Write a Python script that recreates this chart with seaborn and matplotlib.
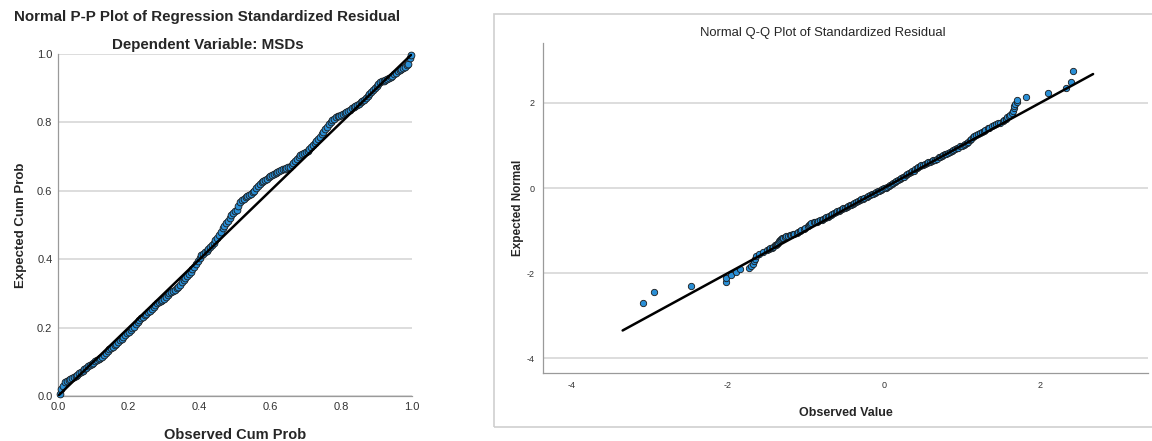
import numpy as np
import pandas as pd
import seaborn as sns
from matplotlib import pyplot as plt
from matplotlib.patches import Rectangle

sns.set_theme(style='white')
plt.rcParams['font.family'] = ['Liberation Sans', 'DejaVu Sans']
plt.rcParams['axes.unicode_minus'] = False

# P-P plot: observed vs expected cumulative probability
pp_observed = [0.005, 0.015, 0.025, 0.035, 0.045, 0.055, 0.065, 0.075, 0.085, 0.095,
               0.105, 0.115, 0.125, 0.135, 0.145, 0.155, 0.165, 0.175, 0.185, 0.195,
               0.205, 0.215, 0.225, 0.235, 0.245, 0.255, 0.265, 0.275, 0.285, 0.295,
               0.305, 0.315, 0.325, 0.335, 0.345, 0.355, 0.365, 0.375, 0.385, 0.395,
               0.405, 0.415, 0.425, 0.435, 0.445, 0.455, 0.465, 0.475, 0.485, 0.495,
               0.505, 0.515, 0.525, 0.535, 0.545, 0.555, 0.565, 0.575, 0.585, 0.595,
               0.605, 0.615, 0.625, 0.635, 0.645, 0.655, 0.665, 0.675, 0.685, 0.695,
               0.705, 0.715, 0.725, 0.735, 0.745, 0.755, 0.765, 0.775, 0.785, 0.795,
               0.805, 0.815, 0.825, 0.835, 0.845, 0.855, 0.865, 0.875, 0.885, 0.895,
               0.905, 0.915, 0.925, 0.935, 0.945, 0.955, 0.965, 0.975, 0.985, 0.990,
               0.995, 0.998]
pp_expected = [0.007, 0.030, 0.045, 0.050, 0.057, 0.061, 0.071, 0.078, 0.087, 0.094,
               0.101, 0.107, 0.113, 0.125, 0.137, 0.144, 0.153, 0.165, 0.172, 0.183,
               0.194, 0.203, 0.217, 0.227, 0.236, 0.246, 0.255, 0.267, 0.274, 0.280,
               0.289, 0.301, 0.307, 0.315, 0.325, 0.339, 0.351, 0.362, 0.377, 0.396,
               0.411, 0.420, 0.429, 0.441, 0.455, 0.471, 0.491, 0.505, 0.521, 0.535,
               0.545, 0.567, 0.577, 0.585, 0.592, 0.600, 0.615, 0.627, 0.633, 0.639,
               0.645, 0.651, 0.657, 0.663, 0.667, 0.671, 0.681, 0.693, 0.704, 0.710,
               0.717, 0.727, 0.739, 0.751, 0.765, 0.780, 0.795, 0.807, 0.815, 0.820,
               0.825, 0.830, 0.837, 0.845, 0.851, 0.859, 0.867, 0.878, 0.889, 0.901,
               0.913, 0.921, 0.923, 0.929, 0.937, 0.945, 0.953, 0.959, 0.967, 0.970,
               0.989, 0.998]
# second reading of the same band, between the points above
pp_observed_b = [0.01, 0.02, 0.03, 0.04, 0.05, 0.06, 0.07, 0.08, 0.09, 0.10,
                 0.11, 0.12, 0.13, 0.14, 0.15, 0.16, 0.17, 0.18, 0.19, 0.20,
                 0.21, 0.22, 0.23, 0.24, 0.25, 0.26, 0.27, 0.28, 0.29, 0.30,
                 0.31, 0.32, 0.33, 0.34, 0.35, 0.36, 0.37, 0.38, 0.39, 0.40,
                 0.41, 0.42, 0.43, 0.44, 0.45, 0.46, 0.47, 0.48, 0.49, 0.50,
                 0.51, 0.52, 0.53, 0.54, 0.55, 0.56, 0.57, 0.58, 0.59, 0.60,
                 0.61, 0.62, 0.63, 0.64, 0.65, 0.66, 0.67, 0.68, 0.69, 0.70,
                 0.71, 0.72, 0.73, 0.74, 0.75, 0.76, 0.77, 0.78, 0.79, 0.80,
                 0.81, 0.82, 0.83, 0.84, 0.85, 0.86, 0.87, 0.88, 0.89, 0.90,
                 0.91, 0.92, 0.93, 0.94, 0.95, 0.96, 0.97, 0.98]
pp_expected_b = [0.020, 0.040, 0.047, 0.052, 0.058, 0.066, 0.074, 0.083, 0.090, 0.098,
                 0.104, 0.110, 0.119, 0.131, 0.140, 0.148, 0.159, 0.168, 0.178, 0.188,
                 0.199, 0.210, 0.222, 0.231, 0.241, 0.250, 0.261, 0.271, 0.277, 0.284,
                 0.295, 0.304, 0.311, 0.320, 0.332, 0.345, 0.356, 0.370, 0.387, 0.404,
                 0.416, 0.424, 0.435, 0.448, 0.463, 0.481, 0.498, 0.513, 0.528, 0.540,
                 0.556, 0.572, 0.581, 0.589, 0.596, 0.608, 0.621, 0.630, 0.636, 0.642,
                 0.648, 0.654, 0.660, 0.665, 0.669, 0.676, 0.687, 0.699, 0.707, 0.714,
                 0.722, 0.733, 0.745, 0.758, 0.772, 0.788, 0.801, 0.811, 0.818, 0.823,
                 0.828, 0.834, 0.841, 0.848, 0.855, 0.863, 0.872, 0.884, 0.895, 0.907,
                 0.917, 0.922, 0.926, 0.933, 0.941, 0.949, 0.956, 0.963]
pp_line = [0.0, 1.0]
pp_ticks = [0.0, 0.2, 0.4, 0.6, 0.8, 1.0]

# Q-Q plot: observed standardized residual vs expected normal
qq_observed = [-3.09, -2.95, -2.47, -2.03, -2.02, -1.96, -1.90, -1.84, -1.73, -1.70,
               -1.68, -1.66, -1.65, -1.64, -1.60, -1.55, -1.50, -1.46, -1.42, -1.39,
               -1.36, -1.33, -1.31, -1.27, -1.23, -1.19, -1.15, -1.10, -1.06, -1.01,
               -0.96, -0.93, -0.88, -0.84, -0.80, -0.76, -0.72, -0.68, -0.64, -0.60,
               -0.56, -0.52, -0.48, -0.44, -0.40, -0.36, -0.31, -0.27, -0.22, -0.18,
               -0.14, -0.10, -0.06, -0.02, 0.02, 0.06, 0.10, 0.14, 0.18, 0.22,
               0.26, 0.30, 0.34, 0.38, 0.42, 0.46, 0.50, 0.55, 0.59, 0.63,
               0.68, 0.72, 0.76, 0.80, 0.85, 0.89, 0.93, 0.98, 1.02, 1.06,
               1.10, 1.14, 1.18, 1.23, 1.28, 1.33, 1.38, 1.44, 1.49, 1.54,
               1.58, 1.62, 1.64, 1.65, 1.66, 1.67, 1.68, 1.70, 1.71, 1.82,
               2.10, 2.33, 2.40, 2.42]
qq_expected = [-2.70, -2.45, -2.31, -2.20, -2.12, -2.05, -1.98, -1.91, -1.87, -1.84,
               -1.79, -1.72, -1.67, -1.61, -1.55, -1.50, -1.46, -1.42, -1.38, -1.33,
               -1.29, -1.22, -1.18, -1.16, -1.13, -1.10, -1.07, -1.03, -0.99, -0.93,
               -0.87, -0.83, -0.80, -0.78, -0.75, -0.71, -0.67, -0.63, -0.59, -0.55,
               -0.52, -0.48, -0.44, -0.40, -0.37, -0.33, -0.29, -0.25, -0.21, -0.17,
               -0.13, -0.09, -0.06, -0.02, 0.01, 0.05, 0.09, 0.14, 0.19, 0.23,
               0.27, 0.32, 0.37, 0.41, 0.46, 0.51, 0.55, 0.59, 0.62, 0.65,
               0.69, 0.74, 0.78, 0.81, 0.85, 0.89, 0.93, 0.98, 1.01, 1.05,
               1.12, 1.19, 1.24, 1.29, 1.34, 1.40, 1.45, 1.50, 1.54, 1.60,
               1.66, 1.72, 1.77, 1.82, 1.87, 1.92, 1.97, 2.03, 2.07, 2.13,
               2.24, 2.35, 2.49, 2.74]
# the dense middle of the band, second reading
qq_observed_b = [-1.48, -1.44, -1.40, -1.37, -1.34, -1.32, -1.29, -1.25, -1.21, -1.17,
                 -1.12, -1.08, -1.03, -0.98, -0.95, -0.90, -0.86, -0.82, -0.78, -0.74,
                 -0.70, -0.66, -0.62, -0.58, -0.54, -0.50, -0.46, -0.42, -0.38, -0.33,
                 -0.29, -0.25, -0.20, -0.16, -0.12, -0.08, -0.04, 0.00, 0.04, 0.08,
                 0.12, 0.16, 0.20, 0.24, 0.28, 0.32, 0.36, 0.40, 0.44, 0.48,
                 0.52, 0.57, 0.61, 0.66, 0.70, 0.74, 0.78, 0.82, 0.87, 0.91,
                 0.95, 1.00, 1.04, 1.08, 1.12, 1.16, 1.21, 1.25, 1.30, 1.35,
                 1.41, 1.46, 1.52, 1.56, 1.60]
qq_expected_b = [-1.44, -1.40, -1.35, -1.31, -1.25, -1.20, -1.17, -1.14, -1.11, -1.08,
                 -1.05, -1.01, -0.96, -0.90, -0.85, -0.81, -0.79, -0.76, -0.73, -0.69,
                 -0.65, -0.61, -0.57, -0.53, -0.50, -0.46, -0.42, -0.39, -0.35, -0.31,
                 -0.27, -0.23, -0.19, -0.15, -0.11, -0.08, -0.04, 0.00, 0.03, 0.07,
                 0.11, 0.16, 0.21, 0.25, 0.30, 0.35, 0.39, 0.44, 0.49, 0.53,
                 0.57, 0.60, 0.63, 0.67, 0.72, 0.76, 0.80, 0.83, 0.87, 0.91,
                 0.95, 0.99, 1.03, 1.09, 1.16, 1.22, 1.27, 1.31, 1.37, 1.42,
                 1.48, 1.52, 1.57, 1.63, 1.69]
qq_line = [-3.35, 2.68]
qq_ticks = [-4, -2, 0, 2]

pp = pd.concat([pd.DataFrame({'observed': pp_observed, 'expected': pp_expected}),
                pd.DataFrame({'observed': pp_observed_b, 'expected': pp_expected_b})])
pp = pp.sort_values('observed')
qq = pd.concat([pd.DataFrame({'observed': qq_observed, 'expected': qq_expected}),
                pd.DataFrame({'observed': qq_observed_b, 'expected': qq_expected_b})])
qq = qq.sort_values('observed')

dot_color = '#2a8fd6'
grid_color = '#d3d3d3'
spine_color = '#9a9a9a'

fig = plt.figure(figsize=(11.52, 4.41), dpi=100)

# ---- left: P-P plot ----
ax1 = fig.add_axes([0.0503, 0.102, 0.3073, 0.7755])
sns.scatterplot(data=pp, x='observed', y='expected', ax=ax1, color=dot_color,
                edgecolor='#1a1a1a', linewidth=0.6, s=24, zorder=3, clip_on=False)
sns.lineplot(x=pp_line, y=pp_line, ax=ax1, color='black', linewidth=1.8, zorder=4)
ax1.set_xlim(0, 1)
ax1.set_ylim(0, 1)
ax1.set_xticks(pp_ticks)
ax1.set_yticks(pp_ticks)
ax1.xaxis.set_major_formatter(plt.FormatStrFormatter('%.1f'))
ax1.yaxis.set_major_formatter(plt.FormatStrFormatter('%.1f'))
ax1.grid(axis='y', color=grid_color, linewidth=1.1)
ax1.set_axisbelow(True)
for side in ['top', 'right']:
    ax1.spines[side].set_visible(False)
for side in ['left', 'bottom']:
    ax1.spines[side].set_color(spine_color)
    ax1.spines[side].set_linewidth(0.9)
ax1.tick_params(length=0, labelsize=8, labelcolor='#333333', pad=4)
ax1.set_xlabel('Observed Cum Prob', fontsize=10.5, fontweight='bold', labelpad=12)
ax1.set_ylabel('Expected Cum Prob', fontsize=9.5, fontweight='bold', labelpad=7)
fig.text(0.18, 0.961, 'Normal P-P Plot of Regression Standardized Residual',
         ha='center', va='center', fontsize=10.9, fontweight='bold')
fig.text(0.18, 0.899, 'Dependent Variable: MSDs',
         ha='center', va='center', fontsize=10.9, fontweight='bold')

# ---- right: Q-Q plot ----
fig.patches.append(Rectangle((494 / 1152, 14 / 441), 0.6, 413 / 441,
                             transform=fig.transFigure, fill=False,
                             edgecolor='#cfcfcf', linewidth=1.2))
ax2 = fig.add_axes([0.4714, 0.1542, 0.5252, 0.7483])
sns.scatterplot(data=qq, x='observed', y='expected', ax=ax2, color=dot_color,
                edgecolor='#1a1a1a', linewidth=0.6, s=21, zorder=3)
sns.lineplot(x=qq_line, y=qq_line, ax=ax2, color='black', linewidth=1.8, zorder=4)
ax2.set_xlim(-4.37, 3.385)
ax2.set_ylim(-4.35, 3.41)
ax2.set_xticks(qq_ticks)
ax2.set_yticks(qq_ticks)
ax2.grid(axis='y', color=grid_color, linewidth=1.1)
ax2.set_axisbelow(True)
for side in ['top', 'right']:
    ax2.spines[side].set_visible(False)
for side in ['left', 'bottom']:
    ax2.spines[side].set_color(spine_color)
    ax2.spines[side].set_linewidth(0.9)
ax2.tick_params(length=0, labelsize=6.5, labelcolor='#333333', pad=6)
ax2.set_xlabel('Observed Value', fontsize=9, fontweight='bold', labelpad=12)
ax2.set_ylabel('Expected Normal', fontsize=8.5, fontweight='bold', labelpad=2)
fig.text(823 / 1152, 1 - 33 / 441, 'Normal Q-Q Plot of Standardized Residual',
         ha='center', va='center', fontsize=9.4)

fig.savefig('out.png', dpi=100)
